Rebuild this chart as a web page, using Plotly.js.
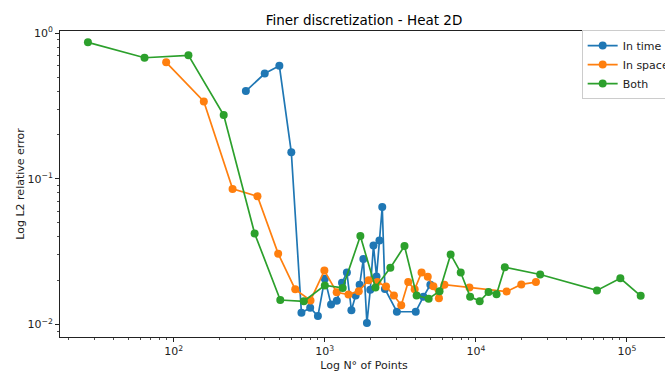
<!DOCTYPE html>
<html>
<head>
<meta charset="utf-8">
<script src="https://cdn.plot.ly/plotly-3.0.1.min.js"></script>
<style>
html,body{margin:0;padding:0;overflow:hidden;background:#fff;}
#chart{width:680px;height:372px;}
</style>
</head>
<body>
<div id="chart"></div>
<script>
// ---- Data ----
const timeX = [300, 400, 500, 600, 700, 800, 900, 1000, 1100, 1200, 1300, 1400, 1500, 1600, 1700, 1800, 1900, 2000, 2100, 2200, 2300, 2400, 2500, 3000, 4000, 4500, 5000];
const timeY = [0.40, 0.528, 0.597, 0.152, 0.0120, 0.0130, 0.0114, 0.0206, 0.0137, 0.0145, 0.0193, 0.0227, 0.0125, 0.0158, 0.0187, 0.0281, 0.0102, 0.0173, 0.0348, 0.0213, 0.0376, 0.0641, 0.0175, 0.0122, 0.0122, 0.0155, 0.0187];

const spaceX = [89, 158, 245, 358, 491, 637, 804, 993, 1198, 1435, 1678, 1950, 2228, 2543, 2868, 3206, 3566, 3934, 4372, 4805, 5235, 5696, 6196, 9069, 15990, 20000, 25000];
const spaceY = [0.631, 0.340, 0.0852, 0.0758, 0.0306, 0.0174, 0.0146, 0.0234, 0.0166, 0.0160, 0.0169, 0.0201, 0.0195, 0.0182, 0.0158, 0.0135, 0.0195, 0.0174, 0.0227, 0.0212, 0.0183, 0.0151, 0.0187, 0.0179, 0.0168, 0.0188, 0.0195];

const bothX = [27, 64, 125, 214, 343, 507, 726, 1000, 1313, 1719, 2164, 2716, 3370, 4055, 4870, 5748, 6811, 7943, 9164, 10605, 12140, 13710, 15560, 26670, 63400, 90570, 123500];
const bothY = [0.865, 0.678, 0.705, 0.274, 0.0421, 0.0147, 0.0144, 0.0185, 0.0178, 0.0404, 0.0179, 0.0245, 0.0345, 0.0158, 0.0150, 0.0169, 0.0302, 0.0227, 0.0155, 0.0144, 0.0167, 0.0161, 0.0247, 0.0220, 0.0171, 0.0207, 0.0157];

const seriesNames = ["In time", "In space", "Both"];
const seriesColors = ["#1f77b4", "#ff7f0e", "#2ca02c"];

const xTickVals = [100, 1000, 10000, 100000];
const xTickText = ["10<sup>2</sup>", "10<sup>3</sup>", "10<sup>4</sup>", "10<sup>5</sup>"];
const yTickVals = [0.01, 0.1, 1];
const yTickText = ["10<sup>\u22122</sup>", "10<sup>\u22121</sup>", "10<sup>0</sup>"];

// minor tick positions for log axes
function minorTicks(lo, hi) {
  const out = [];
  for (let e = lo; e <= hi; e++) {
    for (let m = 2; m <= 9; m++) out.push(m * Math.pow(10, e));
  }
  return out;
}

const font = "DejaVu Sans, sans-serif";
const axisColor = "#222";

const xs = [timeX, spaceX, bothX];
const ys = [timeY, spaceY, bothY];
const traces = xs.map((x, i) => ({
  x: x, y: ys[i], name: seriesNames[i],
  type: "scatter", mode: "lines+markers",
  line: {color: seriesColors[i], width: 1.7},
  marker: {color: seriesColors[i], size: 8}
}));

const layout = {
  width: 680, height: 372,
  margin: {l: 60, r: 4, t: 31, b: 35},
  paper_bgcolor: "#fff", plot_bgcolor: "#fff",
  font: {family: font, size: 11, color: "#222"},
  title: {text: "Finer discretization - Heat 2D", font: {family: font, size: 13.5, color: "#000"},
          x: 0.5, xref: "paper", xanchor: "center", y: 1 - 20/372, yref: "container", yanchor: "middle"},
  showlegend: true,
  legend: {x: 0.858, y: 1.003, xanchor: "left", yanchor: "top",
           bgcolor: "rgba(255,255,255,0.9)", bordercolor: "#ccc", borderwidth: 1,
           font: {family: font, size: 11, color: "#222"}, tracegroupgap: 0},
  xaxis: {
    type: "log", range: [1.2464, 5.2725],
    showgrid: false, zeroline: false,
    showline: true, linecolor: axisColor, linewidth: 1, mirror: true,
    ticks: "outside", ticklen: 4, tickwidth: 1, tickcolor: axisColor,
    tickmode: "array", tickvals: xTickVals, ticktext: xTickText,
    tickfont: {family: font, size: 11, color: "#222"},
    minor: {tickmode: "array", tickvals: minorTicks(1, 5), ticks: "outside", ticklen: 2, tickwidth: 0.8, tickcolor: axisColor, showgrid: false},
    title: {text: "Log N\u00b0 of Points", font: {family: font, size: 11, color: "#222"}, standoff: 6},
    automargin: false
  },
  yaxis: {
    type: "log", range: [-2.087, 0.015],
    showgrid: false, zeroline: false,
    showline: true, linecolor: axisColor, linewidth: 1, mirror: true,
    ticks: "outside", ticklen: 4, tickwidth: 1, tickcolor: axisColor,
    tickmode: "array", tickvals: yTickVals, ticktext: yTickText,
    tickfont: {family: font, size: 11, color: "#222"},
    minor: {tickmode: "array", tickvals: minorTicks(-3, 0), ticks: "outside", ticklen: 2, tickwidth: 0.8, tickcolor: axisColor, showgrid: false},
    title: {text: "Log L2 relative error", font: {family: font, size: 11, color: "#222"}, standoff: 0},
    automargin: false
  }
};

Plotly.newPlot("chart", traces, layout, {displayModeBar: false, staticPlot: true});
</script>
</body>
</html>
